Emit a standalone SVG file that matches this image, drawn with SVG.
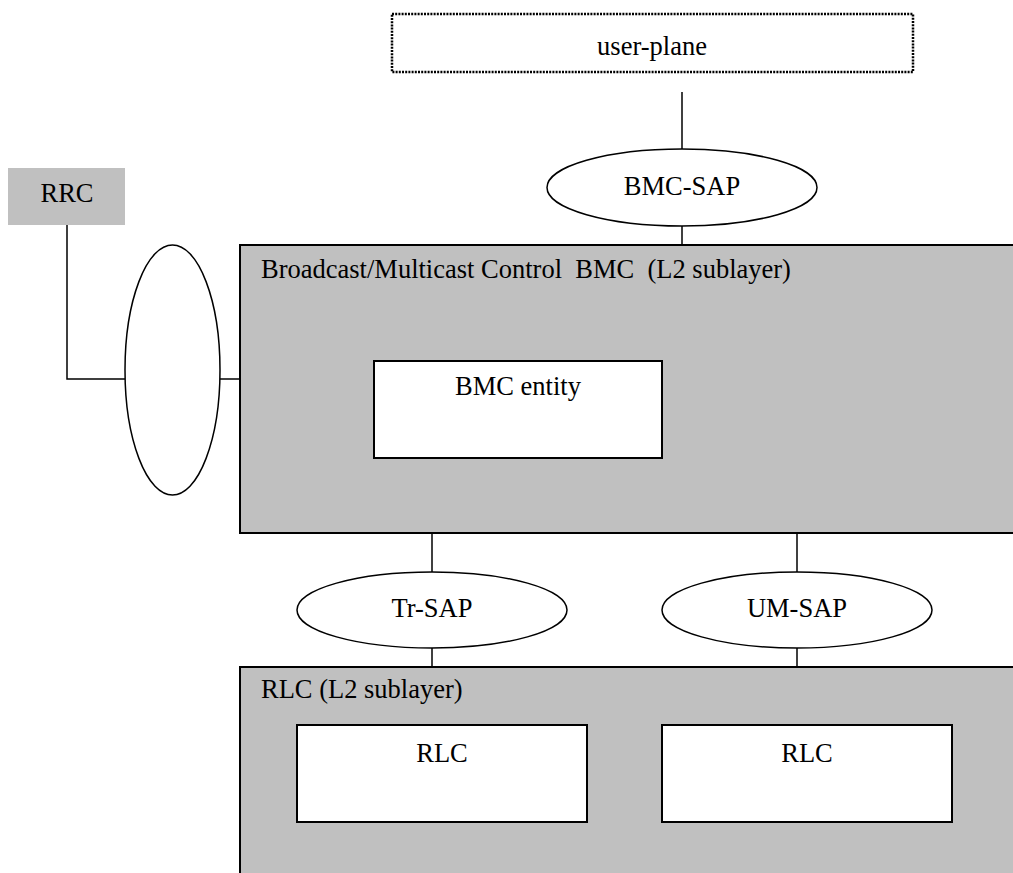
<svg xmlns="http://www.w3.org/2000/svg" width="1013" height="873" viewBox="0 0 1013 873">
<style>
text{font-family:"Liberation Serif","Times New Roman",serif;font-size:26.5px;fill:#000;white-space:pre}
.c{text-anchor:middle}
.ln{stroke:#000;stroke-width:1.5;fill:none}
.layer{fill:#c0c0c0;stroke:#000;stroke-width:2}
.ent{fill:#fff;stroke:#000;stroke-width:2}
.sap{fill:#fff;stroke:#000;stroke-width:1.5}
</style>
<rect width="1013" height="873" fill="#fff"/>
<g id="connectors">
<line class="ln" x1="682" y1="92" x2="682" y2="149"/>
<line class="ln" x1="682" y1="226" x2="682" y2="245"/>
<polyline class="ln" points="67,225 67,379 125,379"/>
<line class="ln" x1="220" y1="379" x2="240" y2="379"/>
<line class="ln" x1="432" y1="533" x2="432" y2="572"/>
<line class="ln" x1="432" y1="648" x2="432" y2="667"/>
<line class="ln" x1="797" y1="533" x2="797" y2="572"/>
<line class="ln" x1="797" y1="648" x2="797" y2="667"/>
</g>
<g id="user-plane">
<rect x="392" y="14" width="521" height="58" fill="#fff" stroke="#000" stroke-width="2.5" stroke-dasharray="2,1.2"/>
<text class="c" x="652" y="55">user-plane</text>
</g>
<g id="bmc-sap">
<ellipse class="sap" cx="682" cy="187.5" rx="135" ry="38.5"/>
<text class="c" x="682" y="195">BMC-SAP</text>
</g>
<g id="rrc">
<rect x="8" y="168" width="117" height="57" fill="#c0c0c0"/>
<text class="c" x="67" y="202">RRC</text>
</g>
<g id="rrc-sap">
<ellipse class="sap" cx="172.5" cy="370" rx="47.5" ry="125"/>
</g>
<g id="bmc-layer">
<rect class="layer" x="240" y="245" width="800" height="288"/>
<text x="261" y="278" xml:space="preserve">Broadcast/Multicast Control  BMC  (L2 sublayer)</text>
</g>
<g id="bmc-entity">
<rect class="ent" x="374" y="361" width="288" height="97"/>
<text class="c" x="518" y="395">BMC entity</text>
</g>
<g id="tr-sap">
<ellipse class="sap" cx="432" cy="610" rx="135" ry="38"/>
<text class="c" x="432" y="617">Tr-SAP</text>
</g>
<g id="um-sap">
<ellipse class="sap" cx="797" cy="610" rx="135" ry="38"/>
<text class="c" x="797" y="617">UM-SAP</text>
</g>
<g id="rlc-layer">
<rect class="layer" x="240" y="667" width="800" height="230"/>
<text x="261" y="698">RLC (L2 sublayer)</text>
</g>
<g id="rlc1">
<rect class="ent" x="297" y="725" width="290" height="97"/>
<text class="c" x="442" y="762">RLC</text>
</g>
<g id="rlc2">
<rect class="ent" x="662" y="725" width="290" height="97"/>
<text class="c" x="807" y="762">RLC</text>
</g>
</svg>
